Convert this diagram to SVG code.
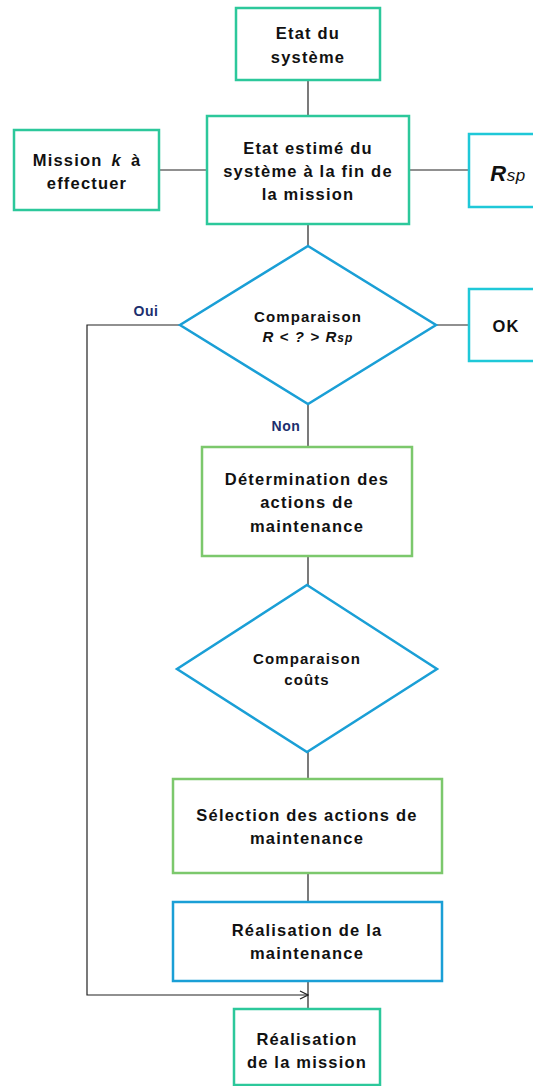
<svg xmlns="http://www.w3.org/2000/svg" width="533" height="1086" viewBox="0 0 533 1086">
<defs>
<style>
.teal{fill:#fff;stroke:#2cc89b;stroke-width:2.5}
.green{fill:#fff;stroke:#7cc86c;stroke-width:2.5}
.blue{fill:#fff;stroke:#1a9fd6;stroke-width:2.5}
.cyan{fill:#fff;stroke:#1fc8d8;stroke-width:2.5}
.t{font-family:"Liberation Sans",Arial,sans-serif;font-weight:bold;font-size:16.5px;fill:#111;text-anchor:middle;letter-spacing:1.2px}
.s{font-size:15px;letter-spacing:1.1px}
.lab{font-family:"Liberation Sans",Arial,sans-serif;font-weight:bold;font-size:14px;fill:#1c2f6e;text-anchor:middle;letter-spacing:0.6px}
.c{fill:none;stroke:#222;stroke-width:1.2}
</style>
<marker id="arr" viewBox="0 0 10 10" refX="9" refY="5" markerWidth="10" markerHeight="10" markerUnits="userSpaceOnUse" orient="auto">
<path d="M1,1 L9,5 L1,9" fill="none" stroke="#222" stroke-width="1.2"/>
</marker>
</defs>
<rect width="533" height="1086" fill="#fff"/>
<g id="connectors">
<path class="c" d="M308,80 V116"/>
<path class="c" d="M159,170 H207"/>
<path class="c" d="M409,170 H469"/>
<path class="c" d="M308,224 V246"/>
<path class="c" d="M436,325 H469"/>
<path class="c" d="M308,404 V447"/>
<path class="c" d="M308,556 V585"/>
<path class="c" d="M308,752 V779"/>
<path class="c" d="M308,873 V902"/>
<path class="c" d="M308,981 V1009"/>
<path class="c" d="M180,325 H87 V995 H308" stroke="#444" marker-end="url(#arr)"/>
</g>
<g id="etat">
<rect class="teal" x="236" y="8" width="144" height="72"/>
<text class="t" x="308" y="39">Etat du</text>
<text class="t" x="308" y="63">système</text>
</g>
<g id="mission">
<rect class="teal" x="14" y="130" width="145" height="80"/>
<text class="t" x="87" y="166">Mission<tspan dx="9" font-style="italic">k</tspan><tspan dx="9">à</tspan></text>
<text class="t" x="87" y="189">effectuer</text>
</g>
<g id="estime">
<rect class="teal" x="207" y="116" width="202" height="108"/>
<text class="t" x="308" y="154">Etat estimé  du</text>
<text class="t" x="308" y="177">système à la fin de</text>
<text class="t" x="308" y="200">la mission</text>
</g>
<g id="rsp">
<rect class="cyan" x="469" y="134" width="80" height="73"/>
<text class="t" x="508" y="181" style="letter-spacing:0.5px;font-style:italic"><tspan font-size="22px">R</tspan><tspan font-size="17px" font-weight="normal">sp</tspan></text>
</g>
<g id="comp1">
<polygon class="blue" points="308,246 436,325 308,404 180,325"/>
<text class="t s" x="308" y="322">Comparaison</text>
<text class="t s" x="308" y="342" font-weight="normal" font-style="italic">R &lt; ? &gt; R<tspan font-size="12px">sp</tspan></text>
</g>
<g id="ok">
<rect class="cyan" x="469" y="289" width="80" height="72"/>
<text class="t" x="506" y="332" font-size="17px">OK</text>
</g>
<g id="labels">
<text class="lab" x="146" y="316">Oui</text>
<text class="lab" x="286" y="431">Non</text>
</g>
<g id="determination">
<rect class="green" x="202" y="447" width="210" height="109"/>
<text class="t" x="307" y="485">Détermination des</text>
<text class="t" x="307" y="508">actions de</text>
<text class="t" x="307" y="532">maintenance</text>
</g>
<g id="comp2">
<polygon class="blue" points="307,585 437,669 307,752 177,669"/>
<text class="t s" x="307" y="664">Comparaison</text>
<text class="t s" x="307" y="685">coûts</text>
</g>
<g id="selection">
<rect class="green" x="173" y="779" width="269" height="94"/>
<text class="t" x="307" y="821">Sélection des actions de</text>
<text class="t" x="307" y="844">maintenance</text>
</g>
<g id="realmaint">
<rect class="blue" x="173" y="902" width="269" height="79"/>
<text class="t" x="307" y="936">Réalisation de la</text>
<text class="t" x="307" y="959">maintenance</text>
</g>
<g id="realmission">
<rect class="teal" x="234" y="1009" width="146" height="76"/>
<text class="t" x="307" y="1045">Réalisation</text>
<text class="t" x="307" y="1068">de la mission</text>
</g>
</svg>
